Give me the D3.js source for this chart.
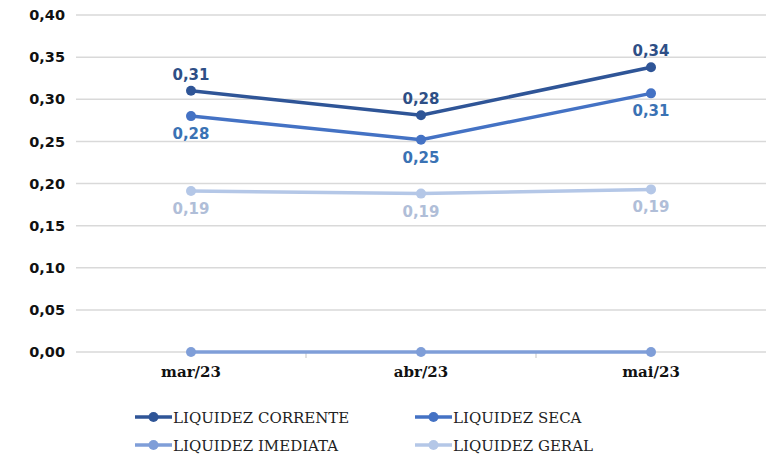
<!DOCTYPE html>
<html>
<head>
<meta charset="utf-8">
<script src="https://cdn.jsdelivr.net/npm/d3@7"></script>
<style>
  body { margin: 0; background: #fff; }
</style>
</head>
<body>
<div id="chart"></div>
<script>
const months = ["mar/23", "abr/23", "mai/23"];
const corrente = [0.31, 0.281, 0.338];
const seca = [0.28, 0.252, 0.307];
const imediata = [0.0, 0.0, 0.0];
const geral = [0.191, 0.188, 0.193];
const yTicks = [0, 0.05, 0.10, 0.15, 0.20, 0.25, 0.30, 0.35, 0.40];

const series = [
  { name: "LIQUIDEZ CORRENTE", values: corrente, color: "#2f5597", label: "#2e4f86", pos: "above" },
  { name: "LIQUIDEZ SECA", values: seca, color: "#4472c4", label: "#3a72b4", pos: "below" },
  { name: "LIQUIDEZ IMEDIATA", values: imediata, color: "#7f9ed8", label: null, pos: null },
  { name: "LIQUIDEZ GERAL", values: geral, color: "#b4c7e7", label: "#b0bed8", pos: "below" }
];

const W = 767, H = 456;
const margin = { top: 15, right: 1, bottom: 104, left: 76 };
const w = W - margin.left - margin.right;
const h = H - margin.top - margin.bottom;
const fmt = v => d3.format(".2f")(v).replace(".", ",");

const svg = d3.select("#chart").append("svg")
  .attr("width", W).attr("height", H);
const g = svg.append("g")
  .attr("transform", `translate(${margin.left},${margin.top})`);

const x = d3.scaleBand().domain(months).range([0, w]);
const y = d3.scaleLinear().domain([0, 0.4]).range([h, 0]);

// gridlines
g.selectAll(".grid").data(yTicks).enter().append("line")
  .attr("x1", 0).attr("x2", w)
  .attr("y1", d => y(d)).attr("y2", d => y(d))
  .attr("stroke", "#d9d9d9").attr("stroke-width", 1.5);

// y-axis labels
const yAxis = g.append("g")
  .call(d3.axisLeft(y).tickValues(yTicks).tickFormat(fmt).tickSize(0).tickPadding(11));
yAxis.select(".domain").remove();
yAxis.selectAll("text")
  .attr("font-family", "DejaVu Sans").attr("font-weight", "bold")
  .attr("font-size", 14.5).attr("fill", "#111");

// x-axis
const xAxis = g.append("g").attr("transform", `translate(0,${h})`)
  .call(d3.axisBottom(x).tickSize(0).tickPadding(14));
xAxis.select(".domain").remove();
xAxis.selectAll("text")
  .attr("font-family", "DejaVu Serif").attr("font-weight", "bold")
  .attr("font-size", 15).attr("fill", "#111");
// boundary ticks between categories
g.selectAll(".xtick").data(months.slice(1)).enter().append("line")
  .attr("x1", d => x(d)).attr("x2", d => x(d))
  .attr("y1", h).attr("y2", h + 6)
  .attr("stroke", "#d9d9d9").attr("stroke-width", 1.5);

const line = d3.line()
  .x((d, i) => x(months[i]) + x.bandwidth() / 2)
  .y(d => y(d));

// draw in order so darker lines sit on top
const drawOrder = [3, 2, 1, 0];
drawOrder.forEach(k => {
  const s = series[k];
  g.append("path").datum(s.values)
    .attr("fill", "none").attr("stroke", s.color)
    .attr("stroke-width", 3.5).attr("d", line);
  g.selectAll(".dot" + k).data(s.values).enter().append("circle")
    .attr("cx", (d, i) => x(months[i]) + x.bandwidth() / 2)
    .attr("cy", d => y(d)).attr("r", 5)
    .attr("fill", s.color);
  if (s.label) {
    g.selectAll(".lab" + k).data(s.values).enter().append("text")
      .attr("x", (d, i) => x(months[i]) + x.bandwidth() / 2)
      .attr("y", d => s.pos === "above" ? y(d) - 11 : y(d) + 23)
      .attr("text-anchor", "middle")
      .attr("font-family", "DejaVu Sans").attr("font-weight", "bold")
      .attr("font-size", 15).attr("fill", s.label)
      .text(d => fmt(d));
  }
});

// legend
const legend = svg.append("g");
series.forEach((s, i) => {
  const lx = i % 2 === 0 ? 135 : 415;
  const ly = i < 2 ? 417 : 445;
  const item = legend.append("g").attr("transform", `translate(${lx},${ly})`);
  item.append("line").attr("x1", 0).attr("x2", 37).attr("y1", 0).attr("y2", 0)
    .attr("stroke", s.color).attr("stroke-width", 3.5);
  item.append("circle").attr("cx", 18.5).attr("cy", 0).attr("r", 5).attr("fill", s.color);
  item.append("text").attr("x", 38).attr("y", 5.5)
    .attr("font-family", "DejaVu Serif").attr("font-size", 15)
    .attr("fill", "#222").text(s.name);
});
</script>
</body>
</html>
